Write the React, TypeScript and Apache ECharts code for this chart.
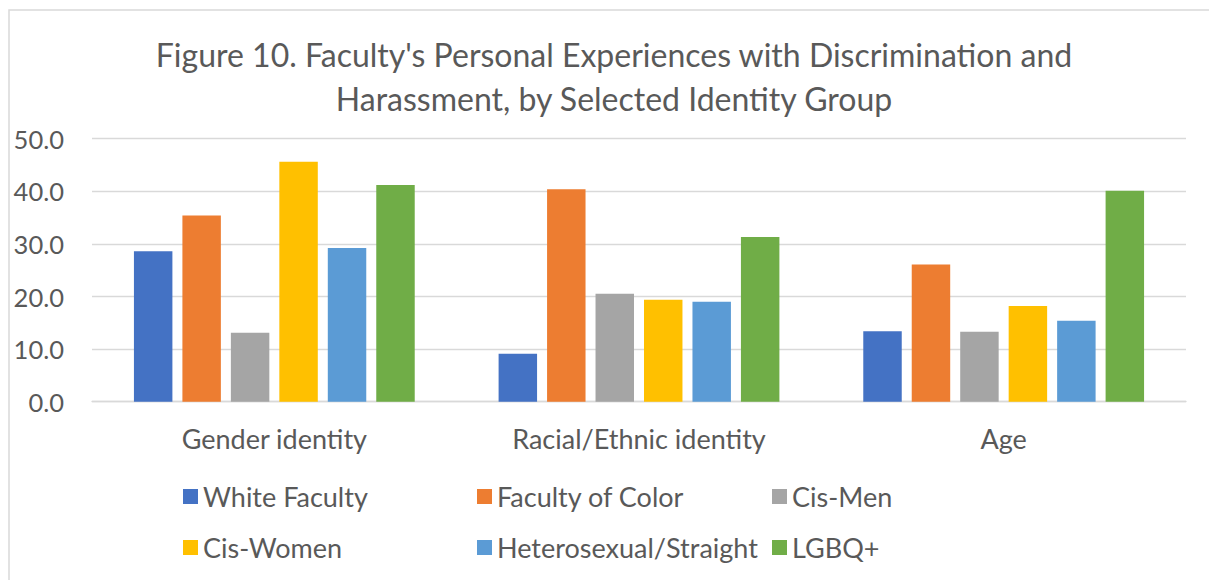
import React, { useEffect, useRef } from "react";
import * as echarts from "echarts";

const categories = ["Gender identity", "Racial/Ethnic identity", "Age"];
const seriesNames = [
  "White Faculty",
  "Faculty of Color",
  "Cis-Men",
  "Cis-Women",
  "Heterosexual/Straight",
  "LGBQ+",
];
const whiteFaculty = [28.6, 9.1, 13.4];
const facultyOfColor = [35.4, 40.4, 26.1];
const cisMen = [13.1, 20.5, 13.3];
const cisWomen = [45.6, 19.4, 18.2];
const heterosexual = [29.2, 19.0, 15.4];
const lgbq = [41.2, 31.3, 40.1];
const seriesValues = [whiteFaculty, facultyOfColor, cisMen, cisWomen, heterosexual, lgbq];
const colors = ["#4472C4", "#ED7D31", "#A5A5A5", "#FFC000", "#5B9BD5", "#70AD47"];
const titleLines = [
  "Figure 10. Faculty's Personal Experiences with Discrimination and",
  "Harassment, by Selected Identity Group",
];

const FONT = "Lato, 'Open Sans', sans-serif";
const TEXT = "#595959";

export default function App() {
  const ref = useRef<HTMLDivElement>(null);
  useEffect(() => {
    if (!ref.current) return;
    const chart = echarts.init(ref.current, null, { renderer: "svg" });
    const legendPos = [
      [183, 483],
      [477, 483],
      [772, 483],
      [183, 534],
      [477, 534],
      [772, 534],
    ];
    chart.setOption({
      animation: false,
      backgroundColor: "#ffffff",
      textStyle: { fontFamily: FONT },
      grid: { left: 92, right: 23, top: 138.7, bottom: 178.3, containLabel: false },
      xAxis: {
        type: "category",
        data: categories,
        axisLine: { show: true, lineStyle: { color: "#d9d9d9", width: 1.3 } },
        axisTick: { show: false },
        axisLabel: { color: TEXT, fontSize: 27, fontFamily: FONT, margin: 23 },
      },
      yAxis: {
        type: "value",
        min: 0,
        max: 50,
        interval: 10,
        axisLine: { show: false },
        axisTick: { show: false },
        splitLine: { lineStyle: { color: "#d9d9d9", width: 1.3 } },
        axisLabel: {
          color: TEXT,
          fontSize: 25.5,
          fontFamily: FONT,
          margin: 28,
          formatter: (v: number) => v.toFixed(1),
        },
      },
      legend: seriesNames.map((name, i) => ({
        data: [name],
        left: legendPos[i][0],
        top: legendPos[i][1],
        padding: 0,
        itemWidth: 15,
        itemHeight: 15,
        icon: "rect",
        selectedMode: false,
        textStyle: { color: TEXT, fontSize: 27, fontFamily: FONT },
      })),
      graphic: [
        {
          type: "rect",
          shape: { x: 9, y: 10, width: 1220, height: 600 },
          style: { fill: "none", stroke: "#d9d9d9", lineWidth: 1.5 },
          silent: true,
          z: -10,
        },
        ...titleLines.map((t, i) => ({
          type: "text",
          x: 614,
          y: 54 + i * 44,
          style: {
            text: t,
            textAlign: "center",
            textVerticalAlign: "middle",
            fontSize: 32,
            fontFamily: FONT,
            fill: TEXT,
          },
        })),
      ],
      series: seriesNames.map((name, i) => ({
        name,
        type: "bar",
        data: seriesValues[i],
        itemStyle: { color: colors[i] },
        barCategoryGap: "23%",
        barGap: "26%",
      })),
    });
    return () => chart.dispose();
  }, []);
  return (
    <div
      ref={ref}
      style={{ position: "absolute", left: 0, top: 0, width: 1209, height: 580 }}
    />
  );
}
